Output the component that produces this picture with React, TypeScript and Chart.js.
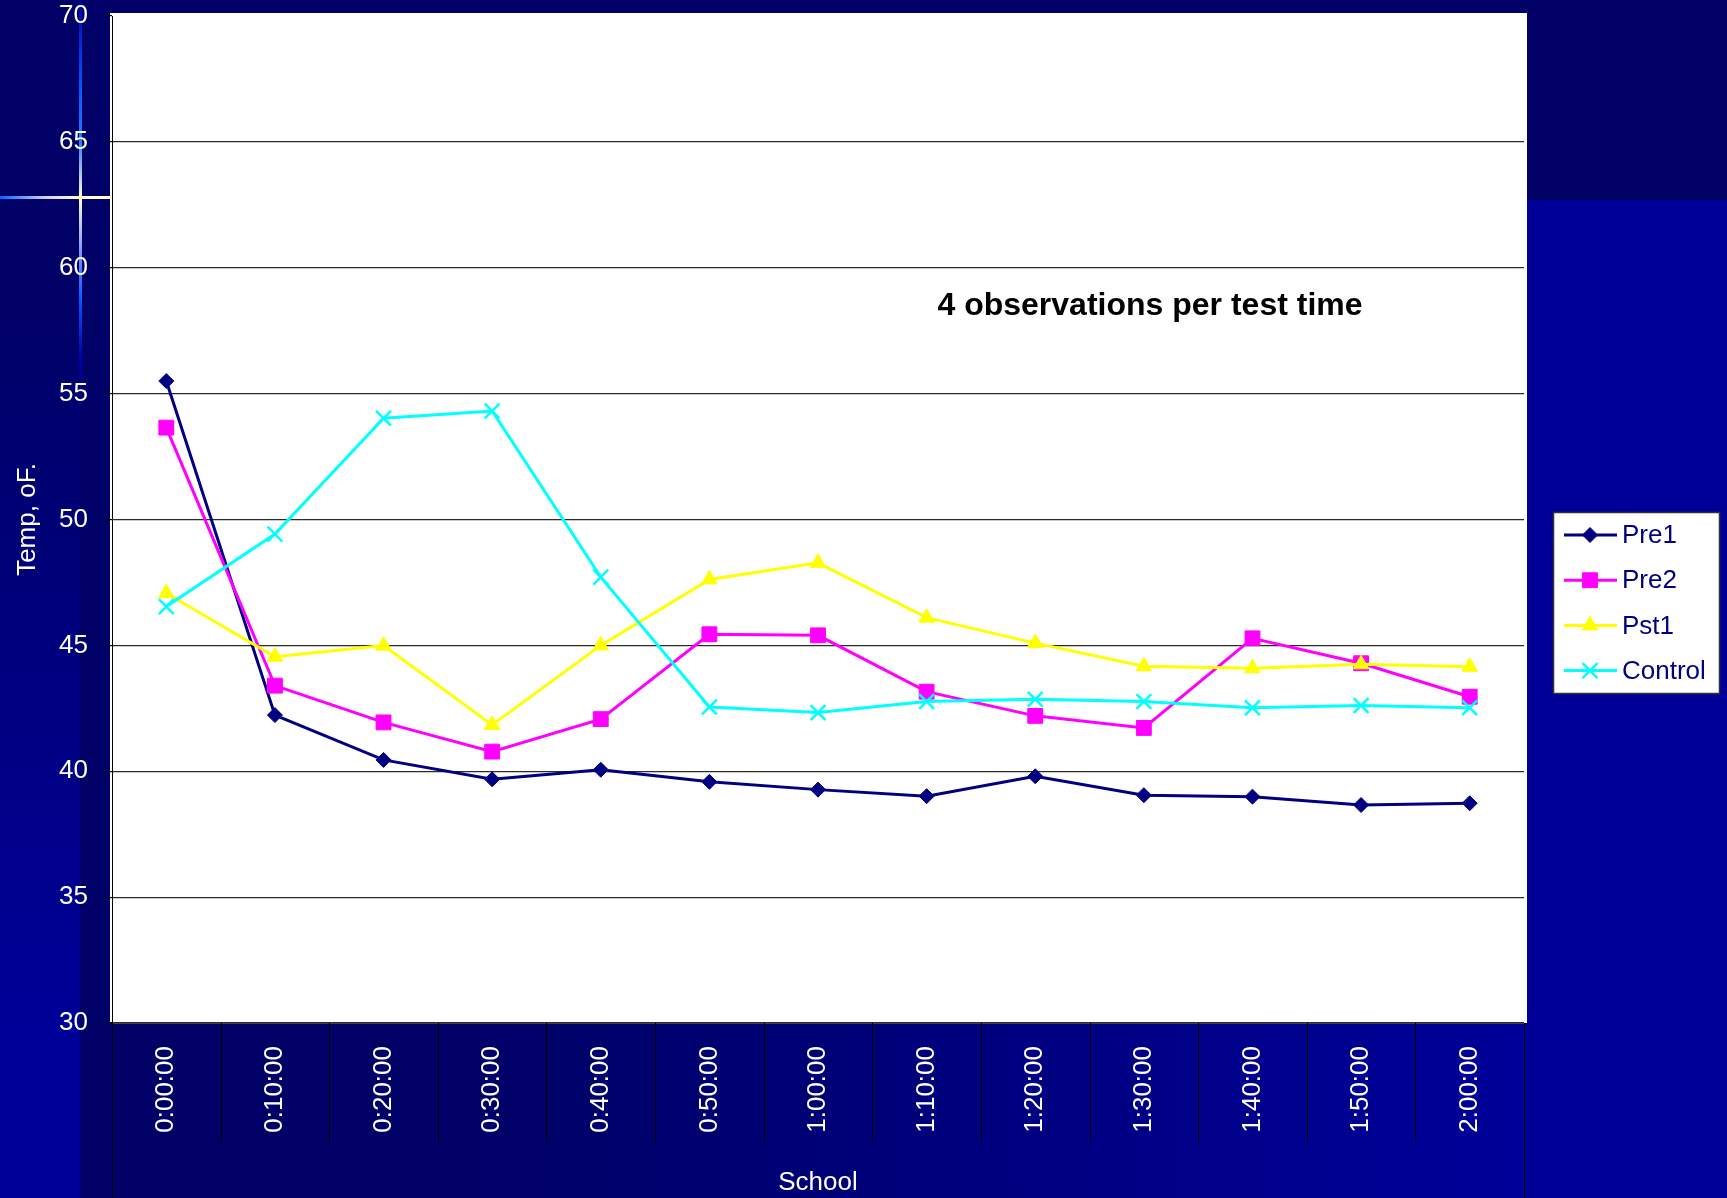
import React, { useEffect, useRef } from 'react';
import { Chart, registerables } from 'chart.js';
import { drawPoint } from 'chart.js/helpers';

Chart.register(...registerables);

const categories = ['0:00:00', '0:10:00', '0:20:00', '0:30:00', '0:40:00', '0:50:00', '1:00:00', '1:10:00', '1:20:00', '1:30:00', '1:40:00', '1:50:00', '2:00:00'];
const pre1 = [55.5, 42.23, 40.45, 39.68, 40.06, 39.58, 39.27, 39.01, 39.8, 39.05, 38.99, 38.66, 38.73];
const pre2 = [53.65, 43.4, 41.94, 40.78, 42.07, 45.44, 45.4, 43.16, 42.2, 41.72, 45.28, 44.29, 42.96];
const pst1 = [47.07, 44.55, 44.99, 41.84, 45.0, 47.62, 48.28, 46.1, 45.09, 44.17, 44.09, 44.25, 44.15];
const control = [46.54, 49.42, 54.02, 54.31, 47.71, 42.55, 42.33, 42.77, 42.86, 42.77, 42.52, 42.61, 42.52];
const seriesNames = ['Pre1', 'Pre2', 'Pst1', 'Control'];
const yMin = 30;
const yMax = 70;
const yStep = 5;
const yTitle = 'Temp, oF.';
const xTitle = 'School';
const note = '4 observations per test time';

const FONT = '"Liberation Sans", Arial, sans-serif';

const bgPlugin = {
  id: 'slideBg',
  beforeDraw(chart: any) {
    const { ctx, chartArea: ca, width, height } = chart;
    ctx.save();
    ctx.fillStyle = '#000099';
    ctx.fillRect(0, 0, width, height);
    let g = ctx.createLinearGradient(0, 300, 0, 1050);
    g.addColorStop(0, '#000066');
    g.addColorStop(1, '#000099');
    ctx.fillStyle = g;
    ctx.fillRect(0, 0, 80, height);
    ctx.fillStyle = '#000066';
    ctx.fillRect(0, 0, width, 200);
    ctx.fillRect(80, 0, ca.left - 80, height);
    g = ctx.createLinearGradient(ca.left, 0, ca.right, 0);
    g.addColorStop(0, '#000066');
    g.addColorStop(0.3, '#000068');
    g.addColorStop(1, '#000099');
    ctx.fillStyle = g;
    ctx.fillRect(ca.left, ca.bottom, ca.right - ca.left, height - ca.bottom);
    // decorative cross
    g = ctx.createLinearGradient(0, 0, 0, 420);
    g.addColorStop(0, '#0000aa');
    g.addColorStop(0.2, '#0055ff');
    g.addColorStop(0.33, '#2277ff');
    g.addColorStop(0.47, '#ffffcc');
    g.addColorStop(0.62, '#6688ff');
    g.addColorStop(0.72, '#0055ff');
    g.addColorStop(0.85, '#0000aa');
    g.addColorStop(1, 'rgba(0,0,170,0)');
    ctx.fillStyle = g;
    ctx.fillRect(79, 0, 3, 420);
    g = ctx.createLinearGradient(0, 0, 110, 0);
    g.addColorStop(0, '#0066ff');
    g.addColorStop(0.4, '#ccccee');
    g.addColorStop(0.7, '#ffffcc');
    g.addColorStop(1, '#ffffcc');
    ctx.fillStyle = g;
    ctx.fillRect(0, 196, 110, 3);
    // plot area
    ctx.fillStyle = '#ffffff';
    ctx.fillRect(ca.left - 2, ca.top - 3, ca.right - ca.left + 5, ca.bottom - ca.top + 3);
    ctx.restore();
  },
};

const overlayPlugin = {
  id: 'overlay',
  afterDraw(chart: any) {
    const { ctx, chartArea: ca, height } = chart;
    const xs = chart.scales.x;
    ctx.save();
    // category separators below axis
    ctx.strokeStyle = '#000000';
    ctx.lineWidth = 1;
    const n = categories.length;
    for (let i = 0; i <= n; i++) {
      let px: number;
      if (i === 0) px = ca.left;
      else if (i === n) px = ca.right;
      else px = (xs.getPixelForValue(i - 1) + xs.getPixelForValue(i)) / 2;
      const bottom = i === 0 || i === n ? height : ca.bottom + 120;
      ctx.beginPath();
      ctx.moveTo(Math.round(px) + 0.5, ca.bottom);
      ctx.lineTo(Math.round(px) + 0.5, bottom);
      ctx.stroke();
    }
    // note text
    ctx.fillStyle = '#000000';
    ctx.font = 'bold 32px ' + FONT;
    ctx.textAlign = 'center';
    ctx.textBaseline = 'alphabetic';
    ctx.fillText(note, 1150, 315);
    // legend
    const lx = 1553, ly = 512, lw = 166, lh = 181;
    ctx.fillStyle = '#ffffff';
    ctx.fillRect(lx, ly, lw, lh);
    ctx.strokeStyle = '#333333';
    ctx.lineWidth = 1.5;
    ctx.strokeRect(lx + 0.5, ly + 0.5, lw, lh);
    chart.data.datasets.forEach((ds: any, i: number) => {
      const y = 535 + i * 45.2;
      ctx.strokeStyle = ds.borderColor;
      ctx.lineWidth = 3;
      ctx.beginPath();
      ctx.moveTo(1564, y);
      ctx.lineTo(1617, y);
      ctx.stroke();
      ctx.fillStyle = ds.pointBackgroundColor;
      ctx.strokeStyle = ds.pointBorderColor;
      ctx.lineWidth = ds.pointBorderWidth;
      drawPoint(ctx, { pointStyle: ds.pointStyle, rotation: 0, radius: ds.pointRadius, borderWidth: ds.pointBorderWidth }, 1590, y);
      ctx.fillStyle = '#000080';
      ctx.font = '26px ' + FONT;
      ctx.textAlign = 'left';
      ctx.textBaseline = 'middle';
      ctx.fillText(ds.label, 1622, y + 1);
    });
    ctx.restore();
  },
};

function makeDataset(label: string, data: number[], color: string, fill: string, style: string, radius: number, bw: number, order: number) {
  return {
    label,
    data,
    borderColor: color,
    backgroundColor: fill,
    borderWidth: 3,
    pointStyle: style,
    pointRadius: radius,
    pointBackgroundColor: fill,
    pointBorderColor: color,
    pointBorderWidth: bw,
    tension: 0,
    order,
  };
}

export default function App() {
  const ref = useRef<HTMLCanvasElement>(null);
  useEffect(() => {
    document.body.style.margin = '0';
    const chart = new Chart(ref.current as HTMLCanvasElement, {
      type: 'line',
      data: {
        labels: categories,
        datasets: [
          makeDataset(seriesNames[0], pre1, '#000080', '#000080', 'rectRot', 7.5, 1, 4),
          makeDataset(seriesNames[1], pre2, '#ff00ff', '#ff00ff', 'rect', 10.5, 1, 3),
          makeDataset(seriesNames[2], pst1, '#ffff00', '#ffff00', 'triangle', 9, 1, 2),
          makeDataset(seriesNames[3], control, '#00ffff', '#00ffff', 'crossRot', 10.5, 2.5, 1),
        ] as any,
      },
      options: {
        responsive: false,
        animation: false,
        layout: { padding: { left: 0, top: 16, right: 203, bottom: 0 }, autoPadding: false },
        plugins: { legend: { display: false }, tooltip: { enabled: false } },
        scales: {
          x: {
            type: 'category',
            offset: true,
            grid: { display: false },
            border: { display: true, color: '#444444', width: 1 },
            ticks: {
              color: '#ffffff',
              font: { size: 26, family: FONT },
              minRotation: 90,
              maxRotation: 90,
              padding: 15,
              autoSkip: false,
            },
            title: { display: true, text: xTitle, color: '#ffffff', font: { size: 26, family: FONT }, padding: 0 },
            afterFit: (s: any) => {
              s.height = 175;
              s.paddingLeft = 0;
              s.paddingRight = 0;
            },
          },
          y: {
            min: yMin,
            max: yMax,
            ticks: { stepSize: yStep, color: '#ffffff', font: { size: 26, family: FONT }, padding: 17 },
            grid: {
              color: (c: any) => (c.tick && c.tick.value === yMax ? 'rgba(0,0,0,0)' : '#2a2a2a'),
              tickColor: '#000000',
              tickLength: 7,
              lineWidth: 1.2,
            },
            border: { display: true, color: '#000000', width: 1 },
            title: { display: true, text: yTitle, color: '#ffffff', font: { size: 26, family: FONT }, padding: { top: 12, bottom: 0 } },
            afterFit: (s: any) => {
              s.width = 112;
              s.paddingTop = 0;
              s.paddingBottom = 0;
            },
          },
        },
      } as any,
      plugins: [bgPlugin, overlayPlugin],
    });
    return () => chart.destroy();
  }, []);
  return (
    <div style={{ position: 'fixed', left: 0, top: 0 }}>
      <canvas ref={ref} width={1727} height={1198} style={{ display: 'block', width: 1727, height: 1198 }} />
    </div>
  );
}
